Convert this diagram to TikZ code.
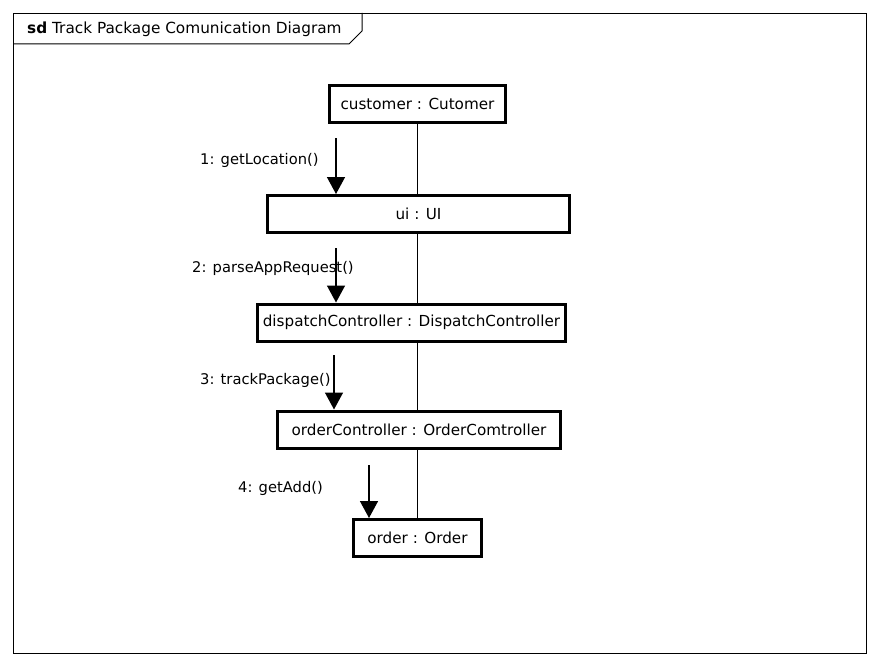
\documentclass[tikz,border=0pt]{standalone}
\usepackage{fontspec}
\setmainfont{DejaVu Sans}
\usepackage{tikz}
\usetikzlibrary{arrows.meta}
\tikzstyle{object}=[rectangle,
	line width=3pt,
	draw=black,
	fill=white,
	minimum height=37pt,
	inner sep=0pt,
	font=\fontsize{15.2}{17}\selectfont]
\tikzstyle{link}=[line width=1pt,
	draw=black]
\tikzstyle{message}=[line width=1.5pt,
	-{Triangle[width=18pt,length=17pt]}]
\tikzstyle{msglabel}=[anchor=west,
	inner sep=0pt,
	font=\fontsize{14.7}{17}\selectfont]

\begin{document}
\begin{tikzpicture}[x=1pt,y=-1pt]
					\useasboundingbox (0,0) rectangle (880,666);
					% frame
					\node (frame) [draw, line width=1pt, minimum width=853pt, minimum height=640pt, inner sep=0pt, anchor=north west] at (13,13) {};
					\draw[line width=1pt] (13,44) -- (349,44) -- (362,31) -- (362,13);
					\node (title) [anchor=west, inner sep=0pt, font=\fontsize{15.3}{17}\selectfont] at (27,29.5) {\textbf{sd} Track Package Comunication Diagram};

					\node (customer) [object, minimum width=176pt] at (417.5,104) {customer : Cutomer};
					\node (ui) [object, minimum width=302pt] at (418.5,214) {ui : UI};
					\node (dispatch) [object, minimum width=308pt] at (411.5,322.5) {dispatchController : DispatchController};
					\node (orderCtrl) [object, minimum width=283pt] at (419,429.5) {orderController : OrderComtroller};
					\node (order) [object, minimum width=128pt] at (417.5,538) {order : Order};

					\draw[link] (customer.south) -- (customer.south |- ui.north);
					\draw[link] (customer.south |- ui.south) -- (customer.south |- dispatch.north);
					\draw[link] (customer.south |- dispatch.south) -- (customer.south |- orderCtrl.north);
					\draw[link] (customer.south |- orderCtrl.south) -- (customer.south |- order.north);

					\coordinate (getLocation) at (336,138);
					\draw[message] (getLocation) -- (getLocation |- ui.north);
					\node (getLocationLabel) [msglabel] at (200,160) {1: getLocation()};

					\coordinate (parseAppRequest) at (336,248);
					\draw[message] (parseAppRequest) -- (parseAppRequest |- dispatch.north);
					\node (parseAppRequestLabel) [msglabel] at (192,268) {2: parseAppRequest()};

					\coordinate (trackPackage) at (334,355);
					\draw[message] (trackPackage) -- (trackPackage |- orderCtrl.north);
					\node (trackPackageLabel) [msglabel] at (200,380) {3: trackPackage()};

					\coordinate (getAdd) at (369,465);
					\draw[message] (getAdd) -- (getAdd |- order.north);
					\node (getAddLabel) [msglabel] at (238,488) {4: getAdd()};
				\end{tikzpicture}
\end{document}
